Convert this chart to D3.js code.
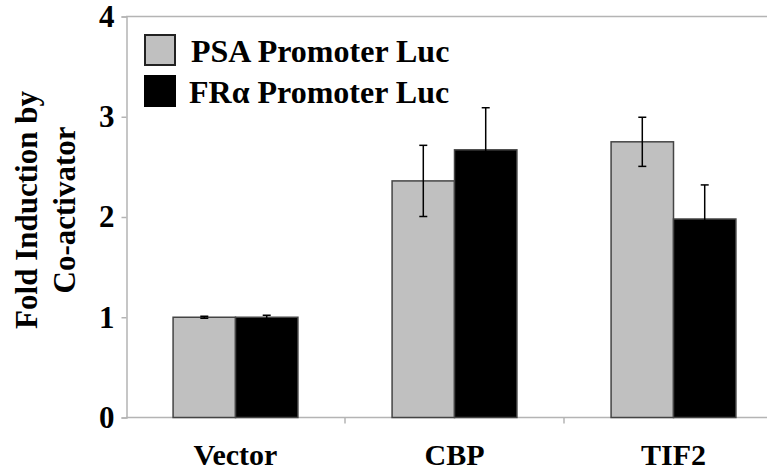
<!DOCTYPE html>
<html>
<head>
<meta charset="utf-8">
<script src="https://cdn.jsdelivr.net/npm/d3@7"></script>
<style>
  body { margin: 0; background: #fff; }
</style>
</head>
<body>
<div id="chart"></div>
<script>
// Data
const categories = ["Vector", "CBP", "TIF2"];
const seriesNames = ["PSA Promoter Luc", "FR\u03b1 Promoter Luc"];
const psaValues = [1.0, 2.36, 2.75];
const psaErrors = [0.01, 0.355, 0.245];
const fraValues = [1.0, 2.67, 1.98];
const fraErrors = [0.02, 0.42, 0.34];
const yTicks = [0, 1, 2, 3, 4];

const colors = ["#c0c0c0", "#000000"];
const font = "'Liberation Serif', 'Times New Roman', Times, 'DejaVu Serif', serif";

const width = 767, height = 470;

const svg = d3.select("#chart").append("svg")
    .attr("width", width)
    .attr("height", height)
    .style("font-family", font)
    .style("font-weight", "bold");

// Scales
const x0 = d3.scaleBand()
    .domain(categories)
    .range([126, 783])
    .paddingInner(0.43)
    .paddingOuter(0.215);

const x1 = d3.scaleBand()
    .domain([0, 1])
    .range([0, x0.bandwidth()]);

const y = d3.scaleLinear()
    .domain([0, 4])
    .range([417.5, 16.5]);

const axisColor = "#b4b4b4";

// Top line at 4
svg.append("line")
    .attr("x1", 126).attr("x2", width)
    .attr("y1", y(4)).attr("y2", y(4))
    .attr("stroke", axisColor).attr("stroke-width", 1.5);

// Y axis
const yAxis = svg.append("g")
    .attr("transform", "translate(126.5,0)")
    .call(d3.axisLeft(y).tickValues(yTicks).tickFormat(d3.format("d")).tickSize(5).tickPadding(7));
yAxis.attr("font-family", null).attr("font-size", null);
yAxis.select(".domain").attr("stroke", axisColor).attr("stroke-width", 1.5);
yAxis.selectAll(".tick line").attr("stroke", axisColor).attr("stroke-width", 1.5);
yAxis.selectAll(".tick text")
    .style("font-family", font)
    .style("font-weight", "bold")
    .attr("font-size", 31)
    .attr("fill", "#000");

// X axis line
svg.append("line")
    .attr("x1", 126).attr("x2", width)
    .attr("y1", y(0)).attr("y2", y(0))
    .attr("stroke", axisColor).attr("stroke-width", 1.5);

// Category boundary ticks
const step = x0.step();
svg.selectAll(".cat-tick")
    .data(categories.slice(1))
    .enter().append("line")
    .attr("x1", d => x0(d) - (step - x0.bandwidth()) / 2)
    .attr("x2", d => x0(d) - (step - x0.bandwidth()) / 2)
    .attr("y1", y(0))
    .attr("y2", y(0) + 6)
    .attr("stroke", axisColor).attr("stroke-width", 1.5);

// Category labels
svg.selectAll(".cat-label")
    .data(categories)
    .enter().append("text")
    .attr("x", d => x0(d) + x0.bandwidth() / 2)
    .attr("y", 465)
    .attr("text-anchor", "middle")
    .attr("font-size", 30)
    .text(d => d);

// Bars
const seriesData = [
    { values: psaValues, errors: psaErrors },
    { values: fraValues, errors: fraErrors }
];

seriesData.forEach((s, si) => {
    const g = svg.append("g");
    g.selectAll("rect")
        .data(categories)
        .enter().append("rect")
        .attr("x", (d, i) => x0(d) + x1(si))
        .attr("y", (d, i) => y(s.values[i]))
        .attr("width", x1.bandwidth())
        .attr("height", (d, i) => y(0) - y(s.values[i]))
        .attr("fill", colors[si])
        .attr("stroke", "#444")
        .attr("stroke-width", 1.5);
});

// Error bars
seriesData.forEach((s, si) => {
    const g = svg.append("g").attr("stroke", "#000").attr("stroke-width", 1.5);
    categories.forEach((c, i) => {
        const cx = x0(c) + x1(si) + x1.bandwidth() / 2;
        const top = y(s.values[i] + s.errors[i]);
        const bot = y(s.values[i] - s.errors[i]);
        g.append("line").attr("x1", cx).attr("x2", cx).attr("y1", top).attr("y2", bot);
        g.append("line").attr("x1", cx - 4).attr("x2", cx + 4).attr("y1", top).attr("y2", top);
        g.append("line").attr("x1", cx - 4).attr("x2", cx + 4).attr("y1", bot).attr("y2", bot);
    });
});

// Y axis title
const title = svg.append("g")
    .attr("transform", "translate(0,210) rotate(-90)");
title.append("text")
    .attr("x", 0).attr("y", 37)
    .attr("text-anchor", "middle")
    .attr("font-size", 31)
    .text("Fold Induction by");
title.append("text")
    .attr("x", 0).attr("y", 75)
    .attr("text-anchor", "middle")
    .attr("font-size", 31)
    .text("Co-activator");

// Legend
const legend = svg.append("g");
seriesNames.forEach((name, i) => {
    const ly = 35 + i * 41;
    legend.append("rect")
        .attr("x", 145).attr("y", ly)
        .attr("width", 30).attr("height", 30)
        .attr("fill", colors[i])
        .attr("stroke", i === 0 ? "#222" : "#000")
        .attr("stroke-width", 2);
    legend.append("text")
        .attr("x", i === 0 ? 191 : 189)
        .attr("y", ly + 27)
        .attr("font-size", 32)
        .text(name);
});
</script>
</body>
</html>
